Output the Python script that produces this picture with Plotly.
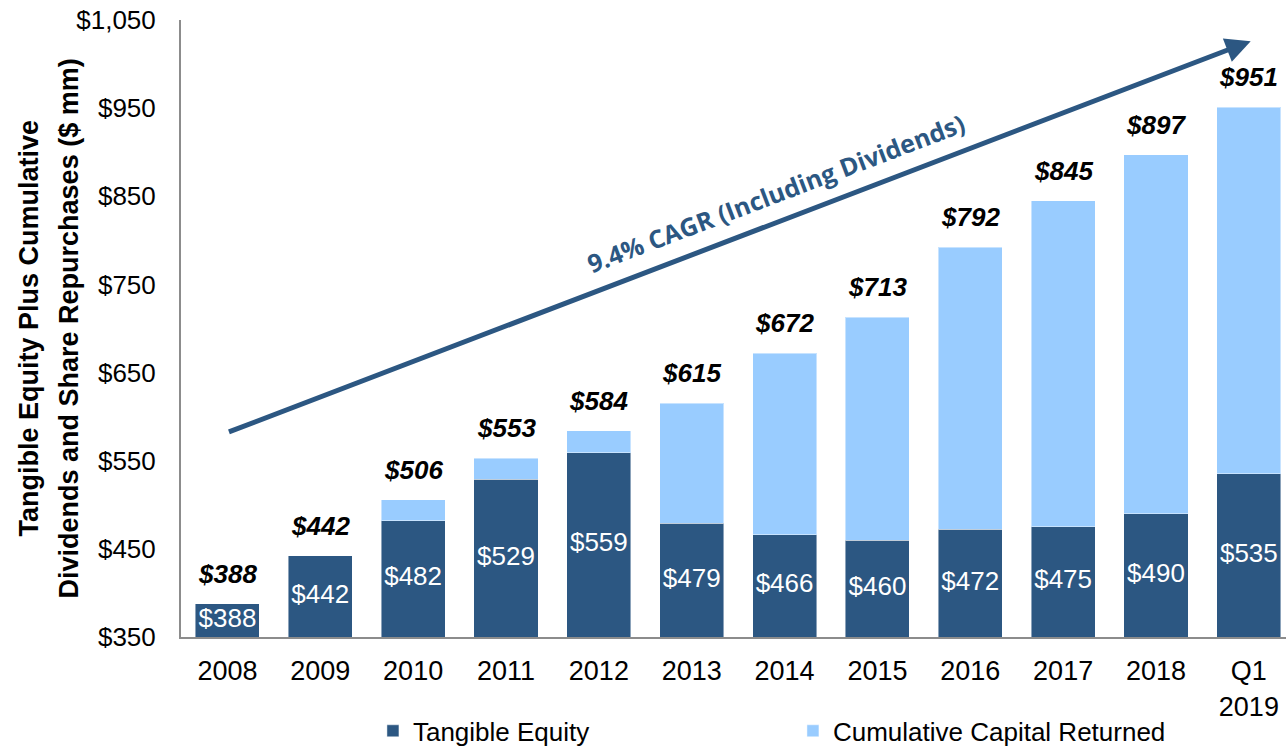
import plotly.graph_objects as go

categories = ["2008", "2009", "2010", "2011", "2012", "2013", "2014", "2015",
              "2016", "2017", "2018", "Q1<br>2019"]
tangible_equity = [388, 442, 482, 529, 559, 479, 466, 460, 472, 475, 490, 535]
totals = [388, 442, 506, 553, 584, 615, 672, 713, 792, 845, 897, 951]
capital_returned = [t - e for t, e in zip(totals, tangible_equity)]

y_min, y_max = 350, 1050
y_ticks = [350, 450, 550, 650, 750, 850, 950, 1050]
y_tick_labels = ["$350", "$450", "$550", "$650", "$750", "$850", "$950", "$1,050"]
y_title_lines = ["Tangible Equity Plus Cumulative", "Dividends and Share Repurchases ($ mm)"]

cagr_start = (0, 582)
cagr_end = (11.02, 1026)
cagr_label = "9.4% CAGR (Including Dividends)"

DARK = "#2C5782"
LIGHT = "#99CCFF"
FONT = "Arial, Liberation Sans, sans-serif"

xs = list(range(len(categories)))

fig = go.Figure()
fig.add_trace(go.Bar(
    x=xs, y=tangible_equity, name="Tangible Equity",
    marker=dict(color=DARK, line=dict(color="rgba(255,255,255,0.45)", width=1)),
    textposition="none",
))
fig.add_trace(go.Bar(
    x=xs, y=capital_returned, name="Cumulative Capital Returned",
    marker=dict(color=LIGHT, line=dict(color="rgba(255,255,255,0.45)", width=1)),
    textposition="none",
))
# value labels centred in the visible part of each dark bar
fig.add_trace(go.Scatter(
    x=xs, y=[(y_min + v) / 2 for v in tangible_equity], mode="text",
    text=[f"${v}" for v in tangible_equity], textposition="middle center",
    textfont=dict(family=FONT, size=26, color="white"),
    showlegend=False, hoverinfo="skip",
))

for i, t in enumerate(totals):
    fig.add_annotation(x=i, y=t, text=f"<b><i>${t}</i></b>", showarrow=False,
                       yshift=30, font=dict(family=FONT, size=26, color="black"))

fig.add_annotation(x=cagr_end[0], y=cagr_end[1], ax=cagr_start[0], ay=cagr_start[1],
                   xref="x", yref="y", axref="x", ayref="y", text="",
                   showarrow=True, arrowhead=2, arrowsize=1, arrowwidth=5, arrowcolor=DARK)
fig.add_annotation(x=5.9, y=854, text=f"<b>{cagr_label}</b>", showarrow=False,
                   textangle=-20.8,
                   font=dict(family="Open Sans", size=25, color=DARK))

# y-axis title, two lines
for line, px in zip(y_title_lines, [28, 68]):
    fig.add_annotation(xref="paper", yref="paper", x=0, y=0.5, xshift=px - 181,
                       text=f"<b>{line}</b>", showarrow=False, textangle=-90,
                       xanchor="center", yanchor="middle",
                       font=dict(family=FONT, size=27, color="black"))

fig.update_layout(
    barmode="stack", bargap=0.31,
    width=1286, height=747,
    margin=dict(l=181, r=0, t=20, b=110, autoexpand=False),
    plot_bgcolor="white", paper_bgcolor="white",
    font=dict(family=FONT, size=26, color="black"),
    showlegend=True,
    legend=dict(orientation="h", xref="container", yref="container",
                x=0.29, y=0.053, xanchor="left", yanchor="top",
                entrywidth=375, entrywidthmode="pixels",
                font=dict(family=FONT, size=26), traceorder="normal"),
    xaxis=dict(tickmode="array", tickvals=xs, ticktext=categories,
               range=[-0.5, 11.4], showline=True, linecolor="#8C8C8C", linewidth=2,
               ticks="", ticklabelstandoff=9, showgrid=False, zeroline=False,
               tickfont=dict(size=27)),
    yaxis=dict(range=[y_min, y_max], tickmode="array", tickvals=y_ticks, ticktext=y_tick_labels,
               showline=True, linecolor="#8C8C8C", linewidth=2, ticks="",
               ticklabelstandoff=18, showgrid=False, zeroline=False,
               tickfont=dict(size=26)),
)

fig.write_html("out.html", config={"displayModeBar": False},
               post_script="document.body.style.margin='0';")
